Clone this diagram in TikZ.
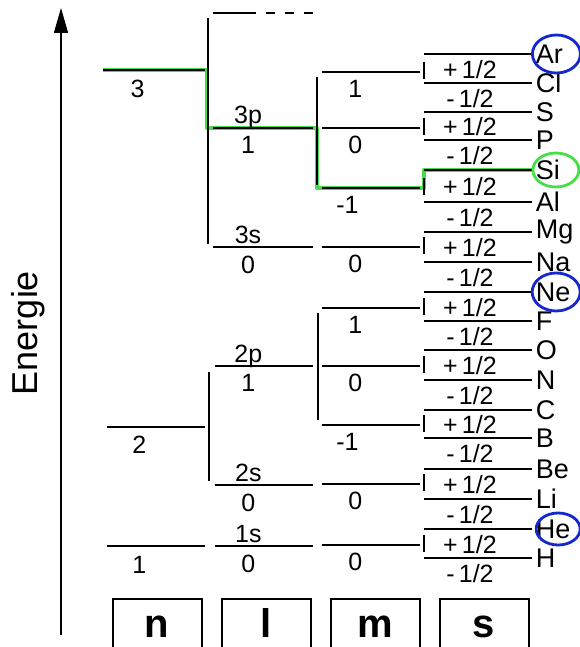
\documentclass[tikz,border=0pt]{standalone}
\usepackage{fontspec}
\setmainfont{Liberation Sans}
\usepackage{xcolor}
\usepackage{tikz}
\usetikzlibrary{arrows.meta,positioning,shapes.geometric}
\definecolor{hlgreen}{RGB}{70,222,70}
\definecolor{penblue}{RGB}{20,40,205}

\begin{document}
\begin{tikzpicture}[
    x=1pt, y=-1pt,
    node distance=18pt,
    every node/.style={
        inner sep=0pt,
        font=\fontsize{25}{28}\selectfont
    },
    lvl/.style={line width=1.8pt},
    elem/.style={right=3pt, font=\fontsize{27}{30}\selectfont},
    hl/.style={
        draw=hlgreen,
        line width=4.5pt,
        line join=round
    },
    ring/.style={draw=penblue, line width=2.8pt},
    colbox/.style={
        draw,
        line width=2pt,
        minimum width=89pt,
        minimum height=62pt
    },
    boxtxt/.style={
        text height=21pt,
        text depth=0pt,
        yshift=3pt,
        font=\fontsize{40}{44}\selectfont\bfseries
    }
]
\useasboundingbox (0,0) rectangle (580,647);

% ---- Energy axis ----
\coordinate (ebot) at (61,635);
\coordinate (etop) at (61,8);
\draw[line width=1.5pt, -{Triangle[length=25pt, width=14pt]}] (ebot) -- (etop);
\node[rotate=90, font=\fontsize{36}{40}\selectfont] (energy) at (28,333) {Energie};

% ---- Highlight (path to Si) ----
\draw[hl] (103,70) -- (207,70) -- (207,128) -- (317,128) -- (317,188)
    -- (424,188) -- (424,170) -- (532,170);

% ---- n ----
\draw[lvl] (103,70) -- node[pos=.34, below=9pt] (n3) {3} (205,70);
\draw[lvl] (107,427) -- node[pos=.33, below=8pt] (n2) {2} (205,427);
\draw[lvl] (107,546) -- node[pos=.33, below=9pt] (n1) {1} (205,546);

% ---- l ----
\draw[lvl] (208,18) -- (208,244);
\draw[lvl] (213,13) -- (256,13);
\draw[lvl, dash pattern=on 9pt off 10pt] (266,13) -- (315,13);
\draw[lvl] (213,128) -- node[pos=.35, anchor=base, yshift=4pt] (l3p) {3p}
    node[pos=.35, below=7pt] (l3pv) {1} (313,128);
\draw[lvl] (213,247) -- node[pos=.35, anchor=base, yshift=4pt] (l3s) {3s}
    node[pos=.35, below=8pt] (l3sv) {0} (313,247);
\draw[lvl] (209,372) -- (209,481);
\draw[lvl] (215,366) -- node[pos=.34, anchor=base, yshift=4pt] (l2p) {2p}
    node[pos=.34, below=7pt] (l2pv) {1} (313,366);
\draw[lvl] (215,485) -- node[pos=.34, anchor=base, yshift=4pt] (l2s) {2s}
    node[pos=.34, below=8pt] (l2sv) {0} (313,485);
\draw[lvl] (215,546) -- node[pos=.34, anchor=base, yshift=4pt] (l1s) {1s}
    node[pos=.34, below=8pt] (l1sv) {0} (313,546);

% ---- m ----
\draw[lvl] (317,77) -- (317,185);
\draw[lvl] (318,313) -- (318,420);

% ---- m lines with their s pairs ----
\foreach \ym/\up/\dn/\mv/\mp/\eup/\edn in {
    72/54/83/1/.34/Ar/Cl, 128/112/140/0/.34/S/P,
    188/170/202/-1/.26/Si/Al, 247/232/262/0/.34/Mg/Na,
    308/292/321/1/.34/Ne/F, 366/350/380/0/.34/O/N,
    425/410/438/-1/.26/C/B, 484/469/499/0/.34/Be/Li,
    545/529/558/0/.34/He/H}{
    \draw[lvl] (322,\ym) -- node[pos=\mp, below=7pt] (m\eup) {\mv} (420,\ym);
    \draw[lvl] (424,{\ym-10}) -- (424,{\ym+7});
    \draw[lvl] (424,\up) -- (532,\up) node[elem] (e\eup) {\eup};
    \draw[lvl] (424,\dn) -- (532,\dn) node[elem] (e\edn) {\edn};
    \node (p\eup) at (470,{(\up+\dn)/2+1}) {+\,1/2};
    \node[below=6pt] (q\eup) at (470,\dn) {-\,1/2};
}

% ---- circled elements ----
\draw[ring] ([xshift=7pt]eAr.center) ellipse [x radius=24pt, y radius=19pt];
\draw[ring] ([xshift=3pt]eNe.center) ellipse [x radius=24pt, y radius=19pt];
\draw[ring] ([xshift=5pt]eHe.center) ellipse [x radius=22pt, y radius=16pt];
\draw[hl, line width=2.8pt] ([xshift=8pt]eSi.center) ellipse [x radius=23pt, y radius=17pt];

% ---- column boxes ----
\node[colbox, label={[boxtxt]center:n}] (nbox) at (157,629.5) {};
\node[colbox, right=of nbox, label={[boxtxt]center:l}] (lbox) {};
\node[colbox, right=of lbox, label={[boxtxt]center:m}] (mbox) {};
\node[colbox, right=of mbox, label={[boxtxt]center:s}] (sbox) {};

\end{tikzpicture}
\end{document}
